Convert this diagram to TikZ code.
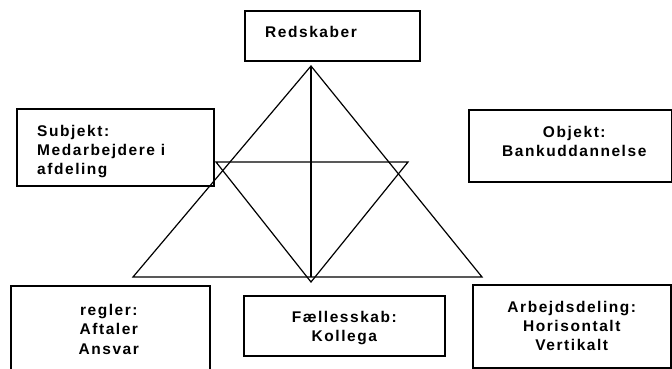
\documentclass[tikz,border=0pt]{standalone}
\usepackage{fontspec}
\setmainfont{Liberation Sans Bold}[LetterSpace=10]
\usetikzlibrary{positioning}

\begin{document}
\begin{tikzpicture}[x=1pt, y=-1pt,
	Box/.style={draw, line width=1.6pt, anchor=north west, inner sep=0pt},
	Txt/.style={inner sep=0pt, font=\fontsize{15.5}{19.3}\selectfont},
	Tri/.style={line width=1.2pt, line join=miter},
	]
	\useasboundingbox (0,0) rectangle (672,369);
	
	% boxes
	\node[Box, minimum width=175pt, minimum height=50pt] (Redskaber) at (244,10) {};
	\node[Box, minimum width=197pt, minimum height=77pt] (Subjekt) at (16,108) {};
	\node[Box, minimum width=203pt, minimum height=72pt] (Objekt) at (468,109) {};
	\node[Box, minimum width=199pt, minimum height=90pt] (Regler) at (10,285) {};
	\node[Box, minimum width=201pt, minimum height=60pt] (Faelles) at (243,295) {};
	\node[Box, minimum width=198pt, minimum height=83pt] (Arbejde) at (472,284) {};
	
	% texts
	\node[Txt, align=left, below right=16.3pt and 21pt of Redskaber.north west] (RedskaberText) {Redskaber};
	\node[Txt, align=left, below right=16.7pt and 21pt of Subjekt.north west] (SubjektText) {Subjekt:\\Medarbejdere i\\afdeling};
	\node[Txt, align=center, below=16.7pt of Objekt.north, xshift=4pt] (ObjektText) {Objekt:\\Bankuddannelse};
	\node[Txt, align=center, below=19pt of Regler.north, xshift=-1.5pt] (ReglerText) {regler:\\Aftaler\\Ansvar};
	\node[Txt, align=center, below=15.7pt of Faelles.north] (FaellesText) {Fællesskab:\\Kollega};
	\node[Txt, align=center, below=16.7pt of Arbejde.north] (ArbejdeText) {Arbejdsdeling:\\Horisontalt\\Vertikalt};
	
	% triangles
	\coordinate (Top) at (311,66);
	\coordinate (BaseL) at (133,277);
	\coordinate (BaseR) at (482,277);
	\coordinate (Mid) at (311,277);
	\coordinate (InvL) at (216,162);
	\coordinate (InvR) at (408,162);
	\coordinate (Bottom) at (311,282);
	
	\draw[Tri] (Top) -- (BaseL) -- (BaseR) -- cycle;
	\draw[Tri] (InvL) -- (InvR) -- (Bottom) -- cycle;
	\draw[Tri] (Top) -- (Mid);
	
\end{tikzpicture}
\end{document}
